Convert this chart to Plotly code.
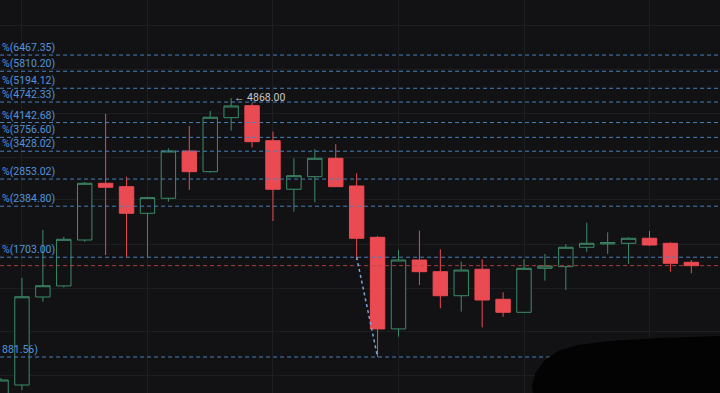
import math
import plotly.graph_objects as go

# ---------------- data ----------------
bar_index = list(range(34))
open_px = [663.7, 732.8, 1310, 1409, 1908, 2774, 2713, 2276, 2513, 3434, 2995, 4277, 4630, 3675, 2667, 2898, 3272,
           2725, 1942, 1061, 1672, 1548, 1321, 1573, 1290, 1184, 1583, 1600, 1819, 1859, 1867, 1930, 1867, 1647]
high_px = [767.5, 1485, 2038, 1950, 2798, 4383, 2898, 2539, 3495, 4049, 4471, 4868, 4713, 3900, 3272, 3472, 3589,
           2963, 1959, 1786, 2029, 1795, 1654, 1680, 1351, 1680, 1740, 1855, 2139, 2008, 1942, 2025, 1880, 1672]
low_px = [642, 709, 1270, 1395, 1887, 1728, 1702, 1702, 2457, 2654, 2975, 3926, 3518, 2163, 2300, 2447, 2705,
          1672, 881.56, 1008, 1418, 1216, 1189, 1072, 1150, 1180, 1459, 1372, 1766, 1740, 1629, 1834, 1548, 1532]
close_px = [757.4, 1312, 1411, 1917, 2774, 2702, 2276, 2523, 3434, 2995, 4289, 4621, 3651, 2667, 2917, 3272, 2713,
            1930, 1061, 1672, 1548, 1321, 1565, 1284, 1184, 1583, 1607, 1819, 1867, 1875, 1930, 1846, 1636, 1611]

fib_levels = [6467.35, 5810.20, 5194.12, 4742.33, 4142.68, 3756.60, 3428.02, 2853.02, 2384.80, 1703.00, 881.56]
fib_labels = ["%(6467.35)", "%(5810.20)", "%(5194.12)", "%(4742.33)", "%(4142.68)", "%(3756.60)",
              "%(3428.02)", "%(2853.02)", "%(2384.80)", "%(1703.00)", "881.56)"]

trend_x = [17, 18]
trend_y = [1703.00, 881.56]

high_label = "← 4868.00"
high_value = 4868.00
high_bar = 11

grid_prices = [782, 1043, 1390, 1858, 2488, 3284, 4408, 5880, 7858]
grid_bars = [1, 7, 13, 19, 25, 31]

# ---------------- style ----------------
BG = "#121214"
GREEN = "#3d8c68"
RED = "#ea4a52"
FIB_LINE = "#4a80bb"
FIB_TEXT = "#5393dc"
W, H = 720, 393
X_RANGE = [-0.05, 34.37]
Y_RANGE = [2.84206, 3.96851]  # log10

def paper_y(price):
    return (math.log10(price) - Y_RANGE[0]) / (Y_RANGE[1] - Y_RANGE[0])

fig = go.Figure()

fig.add_trace(go.Candlestick(
    x=bar_index, open=open_px, high=high_px, low=low_px, close=close_px,
    increasing=dict(line=dict(color=GREEN, width=1), fillcolor=BG),
    decreasing=dict(line=dict(color=RED, width=1), fillcolor=RED),
    whiskerwidth=0, hoverinfo="skip", showlegend=False,
))

for lvl in fib_levels:
    fig.add_trace(go.Scatter(
        x=[X_RANGE[0] - 1, X_RANGE[1] + 1], y=[lvl, lvl], mode="lines",
        line=dict(color=FIB_LINE, width=1, dash="4px,3px"),
        hoverinfo="skip", showlegend=False,
    ))

# current price line
fig.add_trace(go.Scatter(
    x=[X_RANGE[0] - 1, X_RANGE[1] + 1], y=[close_px[-1], close_px[-1]], mode="lines",
    line=dict(color="rgba(190,70,70,0.85)", width=1, dash="4px,3px"),
    hoverinfo="skip", showlegend=False,
))

# fib trend line
fig.add_trace(go.Scatter(
    x=trend_x, y=trend_y, mode="lines",
    line=dict(color="#7aa6da", width=1.5, dash="dot"),
    hoverinfo="skip", showlegend=False,
))

annotations = []
for lvl, lab in zip(fib_levels, fib_labels):
    annotations.append(dict(
        x=1 / W, xref="paper", xanchor="left",
        y=paper_y(lvl), yref="paper", yanchor="bottom", yshift=0,
        text=lab, showarrow=False, borderpad=0,
        font=dict(family="Roboto", size=10.5, color=FIB_TEXT),
    ))

annotations.append(dict(
    x=high_bar + 0.09, xref="x", xanchor="left",
    y=paper_y(high_value), yref="paper", yanchor="middle", yshift=1,
    text=high_label, showarrow=False, borderpad=0,
    font=dict(family="Roboto", size=10.5, color="#c9c9cc"),
))

# redaction scribble (bottom right)
pts = [(720, 336), (660, 338), (610, 341), (578, 345), (558, 351), (545, 360), (536, 372), (532, 385), (533, 393), (720, 393)]
path = "M " + " L ".join(f"{px / W:.4f},{1 - py / H:.4f}" for px, py in pts) + " Z"

fig.update_layout(
    width=W, height=H,
    margin=dict(l=0, r=0, t=0, b=0, pad=0),
    paper_bgcolor=BG, plot_bgcolor=BG,
    boxgap=0.17, boxgroupgap=0.17,
    showlegend=False,
    annotations=annotations,
    shapes=[dict(type="path", path=path, xref="paper", yref="paper",
                 fillcolor="#030303", line=dict(width=0), layer="above")],
    xaxis=dict(range=X_RANGE, showticklabels=False, zeroline=False, tickvals=grid_bars,
               showgrid=True, gridcolor="#1d1e21", gridwidth=1, rangeslider=dict(visible=False),
               showline=False, fixedrange=True),
    yaxis=dict(type="log", range=Y_RANGE, showticklabels=False, zeroline=False, tickvals=grid_prices,
               showgrid=True, gridcolor="#1d1e21", gridwidth=1, showline=False, fixedrange=True),
)

fig.write_html("out.html", config={"displayModeBar": False})
